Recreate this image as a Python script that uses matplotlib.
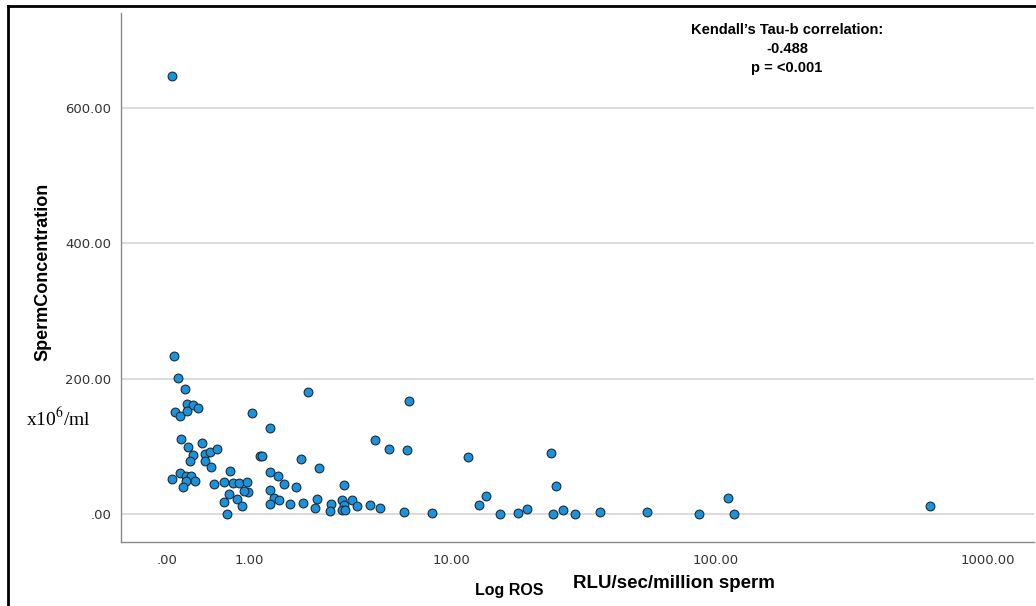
import matplotlib
matplotlib.use("Agg")
import matplotlib.pyplot as plt
from matplotlib.lines import Line2D
import numpy as np

# values: ROS (RLU/sec/million sperm) vs sperm concentration (x10^6/ml)
ros = [0.04,
       0.06, 0.10, 0.16, 0.18, 0.25, 0.30, 0.07, 0.12, 0.18, 1.05,
       0.13, 0.19, 0.34, 0.25, 0.38, 0.44, 0.53, 0.21, 0.38, 0.45,
       0.04, 0.12, 0.17, 0.22, 0.17, 0.27, 0.14, 0.49, 0.70, 0.62,
       0.74, 0.83, 0.96, 0.97, 0.92, 0.69, 0.80, 0.61, 0.88, 0.66,
       2.29, 1.38, 1.19, 1.23, 2.09, 2.60, 4.77, 5.48, 1.39, 1.55,
       1.68, 1.97, 3.44, 1.39, 1.46, 1.56, 1.38, 1.81, 2.15, 2.54,
       2.47, 2.97, 2.95, 3.38, 3.44, 3.38, 3.46, 3.75, 3.96, 4.54,
       4.99, 6.66, 6.54, 6.37, 8.30, 11.56, 12.78, 13.69, 15.53, 18.18,
       19.70, 24.26, 25.48, 24.82, 27.09, 29.99, 37.24, 55.95, 87.22, 111.6,
       117.4, 613.9]
conc = [647.2,
        234.4, 201.9, 184.9, 162.7, 162.2, 156.5, 151.7, 145.4, 152.0, 149.4,
        110.7, 98.9, 105.2, 87.8, 89.0, 91.5, 97.1, 79.4, 79.3, 70.4,
        53.1, 61.7, 57.1, 57.3, 49.7, 48.7, 41.0, 44.7, 64.5, 48.0,
        46.5, 46.5, 48.0, 33.2, 35.0, 30.0, 22.4, 17.7, 12.5, 0.7,
        181.1, 128.1, 86.3, 85.6, 82.4, 67.9, 109.7, 96.2, 62.0, 56.1,
        45.0, 40.6, 43.1, 35.7, 24.8, 21.7, 15.5, 15.1, 17.4, 22.4,
        8.9, 15.5, 5.5, 21.7, 14.0, 7.2, 6.6, 21.0, 12.5, 13.7,
        10.3, 166.8, 94.9, 3.7, 1.9, 84.9, 14.0, 27.7, 1.2, 1.8,
        7.7, 91.2, 42.1, 0.0, 6.6, 1.2, 3.2, 3.2, 0.0, 24.8,
        0.3, 12.5]

x_ticks = [0, 1, 10, 100, 1000]
y_ticks = [0, 200, 400, 600]
stat_lines = ["Kendall\u2019s Tau-b correlation:", "-0.488", "p = <0.001"]


def fwd(v):
    return np.log10(np.maximum(np.asarray(v, dtype=float) + 1, 1e-9))


def inv(v):
    return 10 ** np.asarray(v, dtype=float) - 1


def spss_fmt(v):
    s = "%.2f" % v
    if s.startswith("0."):
        s = s[1:]
    return s


fig = plt.figure(figsize=(10.36, 6.06), dpi=100)
ax = fig.add_axes([121 / 1036, 1 - 542 / 606, (1034 - 121) / 1036, (542 - 13) / 606])

ax.set_xscale("function", functions=(fwd, inv))
ax.set_xlim(inv(-0.168), inv(3.169))
ax.set_ylim(-40.6, 740)

ax.scatter(ros, conc, s=40, c="#1a93de", edgecolors="#1f2a33", linewidths=0.8, zorder=3)

ax.set_xticks(x_ticks)
ax.set_xticklabels([spss_fmt(v) for v in x_ticks])
ax.set_yticks(y_ticks)
ax.set_yticklabels([spss_fmt(v) for v in y_ticks])
ax.minorticks_off()
ax.tick_params(length=0, labelsize=9.5, labelcolor="#333333")
ax.tick_params(axis="x", pad=9)
ax.tick_params(axis="y", pad=7)

ax.grid(axis="y", color="#d4d4d4", linewidth=1.2, zorder=0)
ax.set_axisbelow(True)
for side in ["top", "right"]:
    ax.spines[side].set_visible(False)
for side in ["left", "bottom"]:
    ax.spines[side].set_color("#8a8a8a")
    ax.spines[side].set_linewidth(1.0)

sans = ["Liberation Sans", "DejaVu Sans"]
fig.text(43 / 1036, 1 - 272 / 606, "SpermConcentration", rotation=90, ha="center", va="center",
         fontsize=13, fontweight="bold", family=sans)
fig.text(58 / 1036, 1 - 418 / 606, "x10$^{6}$/ml", ha="center", va="center", fontsize=14,
         family=["Liberation Serif", "DejaVu Serif"], math_fontfamily="stix")
fig.text(509 / 1036, 1 - 590 / 606, "Log ROS", ha="center", va="center",
         fontsize=11.5, fontweight="bold", family=sans)
fig.text(674 / 1036, 1 - 584 / 606, "RLU/sec/million sperm", ha="center", va="center",
         fontsize=13.5, fontweight="bold", family=sans)

for i, line in enumerate(stat_lines):
    fig.text(787 / 1036, 1 - (30 + 19 * i) / 606, line, ha="center", va="center",
             fontsize=10.5, fontweight="bold", family=sans)

# black frame around the picture (top and left edges visible)
fig.add_artist(Line2D([8 / 1036, 1.0], [1 - 6 / 606, 1 - 6 / 606], color="black", linewidth=2))
fig.add_artist(Line2D([8 / 1036, 8 / 1036], [0.0, 1 - 6 / 606], color="black", linewidth=2))

fig.savefig("out.png", dpi=100)
